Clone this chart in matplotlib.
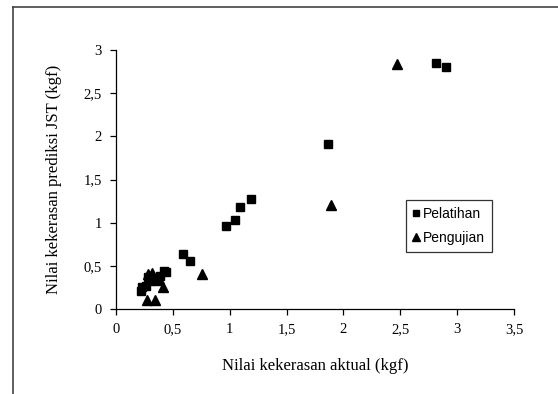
import matplotlib
matplotlib.use("Agg")
import matplotlib.pyplot as plt
from matplotlib.lines import Line2D

# Data
pelatihan_x = [0.22, 0.23, 0.26, 0.28, 0.30, 0.33, 0.36, 0.39, 0.42, 0.44,
               0.59, 0.65, 0.97, 1.05, 1.09, 1.19, 1.86, 2.81, 2.90]
pelatihan_y = [0.21, 0.25, 0.27, 0.37, 0.33, 0.36, 0.32, 0.38, 0.44, 0.43,
               0.64, 0.56, 0.96, 1.03, 1.18, 1.27, 1.91, 2.85, 2.80]
pengujian_x = [0.27, 0.34, 0.28, 0.32, 0.41, 0.38, 0.76, 1.89, 2.47]
pengujian_y = [0.10, 0.10, 0.41, 0.42, 0.26, 0.35, 0.41, 1.20, 2.84]

x_ticks = [0, 0.5, 1, 1.5, 2, 2.5, 3, 3.5]
x_ticklabels = ["0", "0,5", "1", "1,5", "2", "2,5", "3", "3,5"]
y_ticks = [0, 0.5, 1, 1.5, 2, 2.5, 3]
y_ticklabels = ["0", "0,5", "1", "1,5", "2", "2,5", "3"]

fig = plt.figure(figsize=(5.58, 3.94), dpi=100)
ax = fig.add_axes([116/558, 1-309/394, (514-116)/558, (309-50)/394])

ax.plot(pelatihan_x, pelatihan_y, linestyle="none", marker="s", color="black",
        markersize=5.5, label="Pelatihan")
ax.plot(pengujian_x, pengujian_y, linestyle="none", marker="^", color="black",
        markersize=6.5, label="Pengujian")

ax.set_xlim(0, 3.5)
ax.set_ylim(0, 3)
ax.set_xticks(x_ticks)
ax.set_xticklabels(x_ticklabels)
ax.set_yticks(y_ticks)
ax.set_yticklabels(y_ticklabels)
for s in ["top", "right"]:
    ax.spines[s].set_visible(False)
for s in ["left", "bottom"]:
    ax.spines[s].set_linewidth(0.9)
ax.tick_params(direction="out", length=4, width=0.9, labelsize=10.5, pad=6)
for lbl in ax.get_xticklabels() + ax.get_yticklabels():
    lbl.set_family("Liberation Serif")

ax.set_xlabel("Nilai kekerasan aktual (kgf)", family="Liberation Serif", fontsize=12, labelpad=16)
ax.set_ylabel("Nilai kekerasan prediksi JST (kgf)", family="Liberation Serif", fontsize=12, labelpad=16)

leg = ax.legend(loc="upper left", bbox_to_anchor=((406-116)/398, (309-200)/259),
                frameon=True, fancybox=False, edgecolor="black",
                prop={"family": "Liberation Sans", "size": 10},
                handlelength=0.5, handletextpad=0.2, borderpad=0.5,
                labelspacing=0.7, borderaxespad=0, markerscale=0.8)
leg.get_frame().set_linewidth(0.9)

# outer frame
fig.add_artist(Line2D([13/558, 13/558], [0, 1-7/394], transform=fig.transFigure,
                      color="#444444", linewidth=1.2))
fig.add_artist(Line2D([13/558, 1], [1-7/394, 1-7/394], transform=fig.transFigure,
                      color="#444444", linewidth=1.2))

fig.savefig("out.png", dpi=100)
